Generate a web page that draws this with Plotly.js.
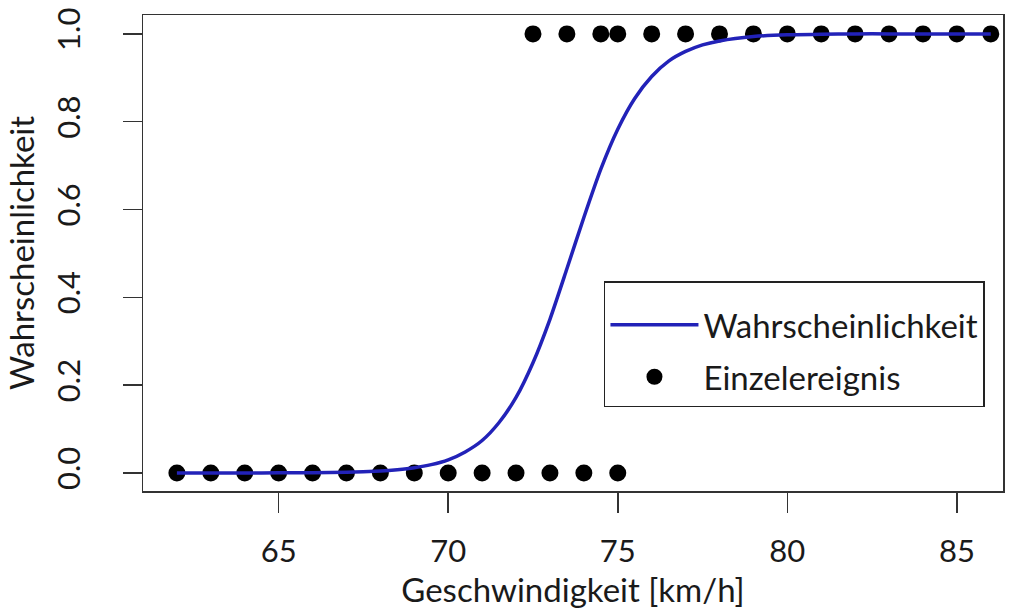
<!DOCTYPE html>
<html><head><meta charset="utf-8">
<script src="https://cdn.plot.ly/plotly-3.0.1.min.js"></script>
<style>html,body{margin:0;padding:0;background:#fff}#chart{width:1014px;height:609px}</style>
</head><body><div id="chart"></div>
<script>
// Einzelereignisse (observations)
const eventSpeed = [62,63,64,65,66,67,68,69,70,71,72,73,74,75,
                    72.5,73.5,74.5,75,76,77,78,79,80,81,82,83,84,85,86];
const eventValue = [0,0,0,0,0,0,0,0,0,0,0,0,0,0,
                    1,1,1,1,1,1,1,1,1,1,1,1,1,1,1];
// fitted probability curve
const curveSpeed = [62,63,64,65,66,67,68,68.5,69,69.5,70,70.5,71,71.5,72,72.5,73,73.5,74,74.5,75,75.5,76,76.5,77,77.5,78,79,80,81,82,83,84,85,86];
const curveProb  = [0,0,0.0001,0.0003,0.0007,0.0018,0.0046,0.0075,0.012,0.019,0.030,0.048,0.074,0.115,0.172,0.251,0.350,0.465,0.582,0.692,0.783,0.853,0.903,0.938,0.960,0.975,0.984,0.994,0.998,0.999,1,1,1,1,1];
const xTicks = [65,70,75,80,85];
const yTicks = [0,0.2,0.4,0.6,0.8,1.0];
const yTickText = ['0.0','0.2','0.4','0.6','0.8','1.0'];

const FONT = 'Lato, "Open Sans", sans-serif';
const traces = [
  {x: eventSpeed, y: eventValue, type:'scatter', mode:'markers', name:'Einzelereignis',
   legendgroup:'b', legendrank:2, marker:{color:'#000', size:17}, cliponaxis:false},
  {x: curveSpeed, y: curveProb, type:'scatter', mode:'lines', name:'Wahrscheinlichkeit',
   legendgroup:'a', legendrank:1, line:{color:'#2222b8', width:3.5, shape:'spline', smoothing:0.6}, cliponaxis:false}
];
const layout = {
  width:1014, height:609,
  margin:{l:143, r:11, t:15, b:118},
  paper_bgcolor:'#fff', plot_bgcolor:'#fff',
  font:{family:FONT, size:31, color:'#1a1a1a'},
  showlegend:true,
  legend:{x:0.536, y:0.441, xanchor:'left', yanchor:'top', bgcolor:'#fff',
          bordercolor:'#222', borderwidth:1.5, font:{size:33, family:FONT},
          title:{text:' ', font:{size:11}},
          traceorder:'grouped', tracegroupgap:6, itemwidth:88},
  xaxis:{range:[61.0,86.36], tickvals:xTicks, ticktext:xTicks.map(String),
         showgrid:false, zeroline:false, showline:true, mirror:true,
         linecolor:'#333', linewidth:1.5, ticks:'outside', ticklen:20, tickwidth:1.5,
         tickcolor:'#333', ticklabelstandoff:12,
         title:{text:'Geschwindigkeit [km/h]', font:{size:33, family:FONT}, standoff:0}},
  yaxis:{range:[-0.041,1.043], tickvals:yTicks, ticktext:yTickText, tickangle:-90,
         showgrid:false, zeroline:false, showline:true, mirror:true,
         linecolor:'#333', linewidth:1.5, ticks:'outside', ticklen:19, tickwidth:1.5,
         tickcolor:'#333', ticklabelstandoff:30,
         title:{text:'Wahrscheinlichkeit', font:{size:33, family:FONT}, standoff:4}}
};
Plotly.newPlot('chart', traces, layout, {displayModeBar:false, staticPlot:true});
</script></body></html>
